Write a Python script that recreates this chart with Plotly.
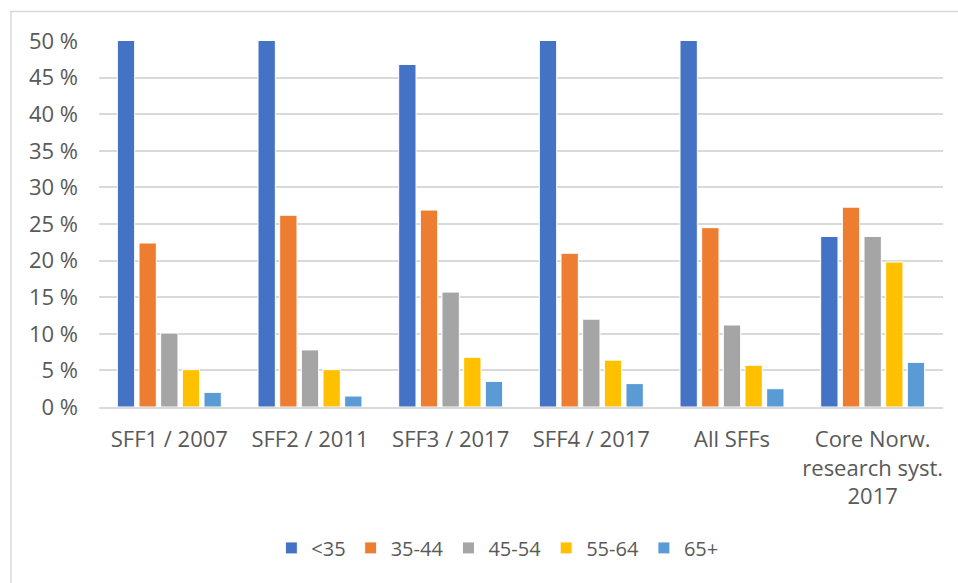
import plotly.graph_objects as go

# Age distribution of researchers by centre cohort
categories = ["SFF1 / 2007", "SFF2 / 2011", "SFF3 / 2017", "SFF4 / 2017",
              "All SFFs", "Core Norw.<br>research syst.<br>2017"]
age_groups = ["<35", "35-44", "45-54", "55-64", "65+"]

under_35 = [58.0, 57.0, 46.8, 55.0, 54.0, 23.3]
age_35_44 = [22.4, 26.2, 26.9, 21.0, 24.5, 27.3]
age_45_54 = [10.1, 7.8, 15.7, 12.0, 11.2, 23.3]
age_55_64 = [5.1, 5.1, 6.8, 6.4, 5.7, 19.8]
age_65_plus = [2.0, 1.5, 3.5, 3.2, 2.5, 6.1]

series = [under_35, age_35_44, age_45_54, age_55_64, age_65_plus]
colors = ["#4472C4", "#ED7D31", "#A5A5A5", "#FFC000", "#5B9BD5"]

font_family = "Open Sans, sans-serif"
text_color = "#595959"
fsize = 22

fig = go.Figure()
for name, vals, col in zip(age_groups, series, colors):
    fig.add_trace(go.Bar(
        name=name, x=categories, y=vals,
        marker=dict(color=col, line=dict(color="white", width=1)),
    ))

fig.update_layout(
    width=958, height=583,
    margin=dict(l=99, r=15, t=41, b=176),
    paper_bgcolor="white", plot_bgcolor="white",
    barmode="group", bargap=0.23, bargroupgap=0.2,
    font=dict(family=font_family, size=fsize, color=text_color),
    showlegend=True,
    legend=dict(orientation="h", x=0.472, xanchor="center", y=-0.385, yanchor="middle",
                font=dict(size=20, color=text_color), itemwidth=30,
                traceorder="normal"),
    xaxis=dict(showgrid=False, showline=True, linecolor="#d9d9d9", linewidth=1.5,
               ticks="", ticklabelstandoff=12,
               tickfont=dict(size=fsize, color=text_color)),
    yaxis=dict(range=[0, 50], dtick=5, ticksuffix="\u00a0%", showgrid=True,
               gridcolor="#d9d9d9", gridwidth=1.5, zeroline=False,
               ticks="", ticklabelstandoff=20,
               tickfont=dict(size=fsize, color=text_color)),
    shapes=[
        dict(type="line", xref="paper", yref="paper",
             x0=-0.1055, x1=1.02, y0=1.0807, y1=1.0807,
             line=dict(color="#d9d9d9", width=1.5)),
        dict(type="line", xref="paper", yref="paper",
             x0=-0.1043, x1=-0.1043, y0=1.0807, y1=-0.5,
             line=dict(color="#d9d9d9", width=1.5)),
    ],
)

fig.write_html("out.html")
